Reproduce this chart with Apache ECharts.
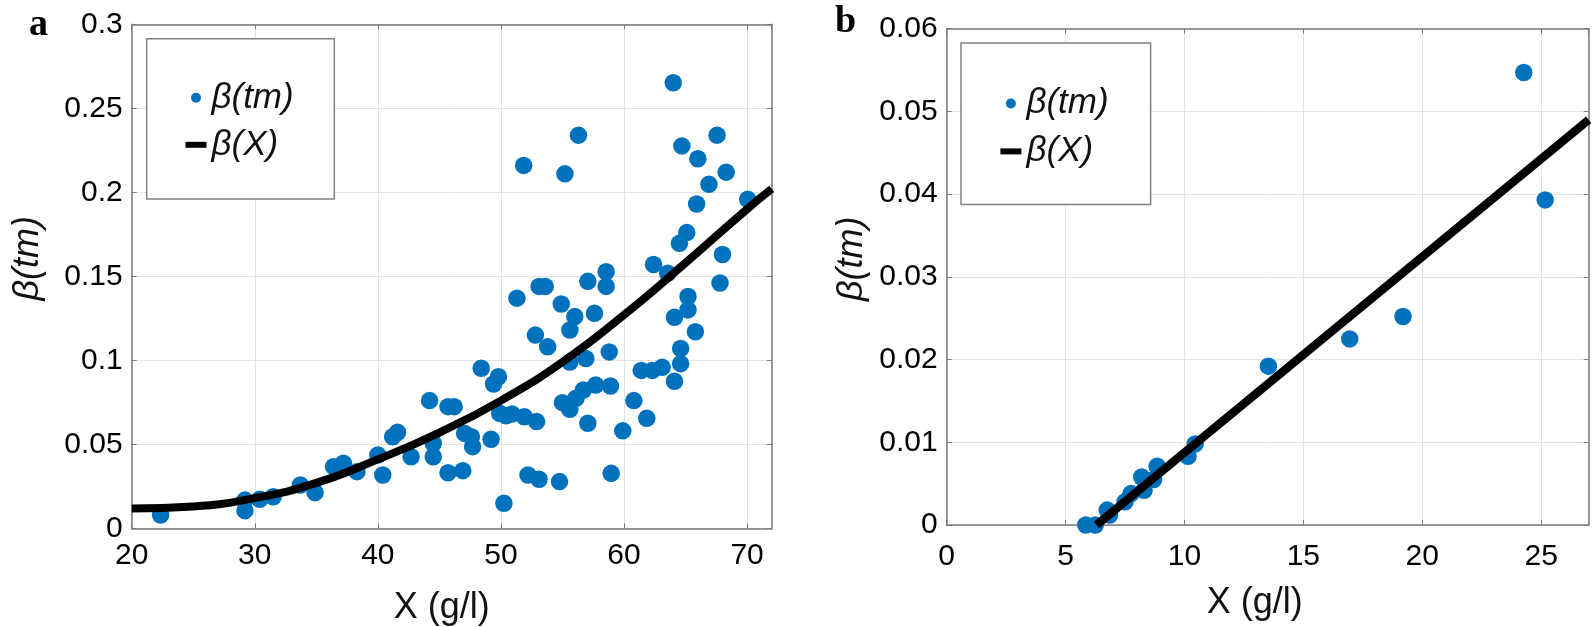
<!DOCTYPE html>
<html>
<head>
<meta charset="utf-8">
<script src="https://cdn.jsdelivr.net/npm/echarts@6/dist/echarts.min.js"></script>
<style>
  html, body { margin: 0; padding: 0; background: #fff; }
  #chart { width: 1595px; height: 627px; }
</style>
</head>
<body>
<div id="chart"></div>
<script>
// panel a : measured beta(tm) vs X (g/l), plus fitted curve
const aPoints = [
  [22.35, 0.0079], [29.2, 0.0168], [29.2, 0.0105], [30.4, 0.0173], [31.5, 0.0188],
  [33.7, 0.0258], [34.9, 0.0212], [36.4, 0.0367], [37.2, 0.0387], [38.3, 0.0337],
  [40.0, 0.0436], [40.4, 0.0317], [41.2, 0.0545], [41.6, 0.0572], [42.7, 0.0426],
  [44.2, 0.076], [44.5, 0.0506], [44.5, 0.0426], [45.7, 0.0331], [45.7, 0.0724],
  [46.2, 0.0724], [46.9, 0.0343], [47.05, 0.0565], [47.6, 0.0545], [47.7, 0.0486],
  [48.4, 0.0953], [49.2, 0.053], [49.4, 0.0859], [49.8, 0.0902], [49.9, 0.0685],
  [50.24, 0.0149], [50.4, 0.067], [50.9, 0.068], [51.3, 0.137], [51.85, 0.216],
  [51.9, 0.0664], [52.2, 0.0317], [52.8, 0.115], [52.9, 0.0635], [53.1, 0.144],
  [53.1, 0.0292], [53.6, 0.144], [53.8, 0.108], [54.76, 0.0278], [54.9, 0.1335],
  [55.0, 0.0748], [55.2, 0.211], [55.6, 0.118], [55.6, 0.099], [55.6, 0.0708],
  [56.0, 0.126], [56.1, 0.0774], [56.3, 0.234], [56.7, 0.0823], [56.9, 0.101],
  [57.06, 0.147], [57.06, 0.0625], [57.6, 0.128], [57.7, 0.0853], [58.55, 0.1527],
  [58.55, 0.144], [58.8, 0.105], [58.9, 0.0847], [58.96, 0.0327], [59.9, 0.058],
  [60.8, 0.076], [61.4, 0.094], [61.85, 0.0655], [62.3, 0.094], [62.4, 0.157],
  [63.1, 0.0958], [63.55, 0.1518], [64.0, 0.2652], [64.1, 0.1256], [64.1, 0.0875],
  [64.5, 0.1696], [64.6, 0.107], [64.6, 0.098], [64.7, 0.2276], [65.1, 0.176],
  [65.2, 0.138], [65.2, 0.130], [65.8, 0.117], [65.9, 0.193], [66.0, 0.220],
  [66.9, 0.2048], [67.56, 0.234], [67.8, 0.146], [68.0, 0.163], [68.3, 0.212],
  [70.05, 0.1958]
];
const aFitX = [20, 25, 30, 35, 40, 45, 50, 55, 60, 65, 70, 72];
const aFitY = [0.0118, 0.013, 0.018, 0.027, 0.041, 0.057, 0.076, 0.099, 0.127, 0.158, 0.190, 0.202];

// panel b
const bPoints = [
  [5.85, 0], [6.25, 0], [6.75, 0.0018], [6.85, 0.0012], [7.5, 0.0028], [7.75, 0.0038],
  [8.2, 0.0058], [8.3, 0.0042], [8.7, 0.0055], [8.85, 0.0071], [10.15, 0.0083],
  [10.45, 0.0098], [13.53, 0.0192], [16.95, 0.0225], [19.19, 0.0252],
  [24.27, 0.0547], [25.17, 0.0393]
];
const bFitX = [6.3, 27];
const bFitY = [0, 0.049];

// axis ranges: [min, max, interval]
const aXRange = [20, 72, 10];
const aYRange = [0, 0.3, 0.05];
const bXRange = [0, 27, 5];
const bYRange = [0, 0.06, 0.01];

const FONT = '"Liberation Sans", Arial, sans-serif';
const AXIS_COLOR = '#7a7a7a';
const GRID_COLOR = '#e2e2e2';
const BLUE = '#0072BD';

function zip(xs, ys) {
  return xs.map((x, i) => [x, ys[i]]);
}

function xAxes(grid, range, labelMargin, nameGap, shift) {
  const base = {
    gridIndex: grid, type: 'value',
    min: range[0], max: range[1], interval: range[2],
    axisLine: { show: true, onZero: false, lineStyle: { color: AXIS_COLOR, width: 1.5 } },
    axisTick: { show: true, inside: true, length: 5, lineStyle: { color: AXIS_COLOR, width: 1 } },
  };
  return [
    {
      ...base, position: 'bottom',
      name: 'X (g/l)', nameLocation: 'middle', nameGap: nameGap,
      nameTextStyle: { fontSize: 36, fontFamily: FONT, color: '#111', padding: [0, shift, 0, 0] },
      axisLabel: { fontSize: 30, fontFamily: FONT, color: '#000', margin: labelMargin, showMaxLabel: false },
      splitLine: { show: true, lineStyle: { color: GRID_COLOR, width: 1 } },
    },
    { ...base, position: 'top', axisLabel: { show: false }, splitLine: { show: false } },
  ];
}

function yAxes(grid, range, nameGap) {
  const base = {
    gridIndex: grid, type: 'value',
    min: range[0], max: range[1], interval: range[2],
    axisLine: { show: true, onZero: false, lineStyle: { color: AXIS_COLOR, width: 1.5 } },
    axisTick: { show: true, inside: true, length: 5, lineStyle: { color: AXIS_COLOR, width: 1 } },
  };
  return [
    {
      ...base, position: 'left',
      name: 'β(tm)', nameLocation: 'middle', nameGap: nameGap,
      nameTextStyle: { fontSize: 36, fontFamily: FONT, fontStyle: 'italic', color: '#111', padding: [0, 0, 0, 36] },
      axisLabel: { fontSize: 30, fontFamily: FONT, color: '#000', margin: 9 },
      splitLine: { show: true, lineStyle: { color: GRID_COLOR, width: 1 } },
    },
    { ...base, position: 'right', axisLabel: { show: false }, splitLine: { show: false } },
  ];
}

function legendFor(left, top, padding, gap) {
  return {
    orient: 'vertical', left: left, top: top,
    padding: padding, itemGap: gap,
    itemWidth: 21, itemHeight: 10,
    borderColor: '#808080', borderWidth: 1.5, backgroundColor: '#fff',
    selectedMode: false,
    textStyle: { fontSize: 35, fontStyle: 'italic', fontFamily: FONT, color: '#111', lineHeight: 33, width: 100 },
    data: [
      { name: 'β(tm)', icon: 'circle', itemStyle: { color: BLUE } },
      { name: 'β(X)', icon: 'path://M0,0h21v6h-21z', itemStyle: { color: '#000' } },
    ],
  };
}

const chart = echarts.init(document.getElementById('chart'));

chart.setOption({
  backgroundColor: '#fff',
  animation: false,
  grid: [
    { left: 131.7, top: 24.3, width: 640, height: 504, outerBoundsMode: 'none' },
    { left: 946.7, top: 28.7, width: 642, height: 496.3, outerBoundsMode: 'none' },
  ],
  xAxis: [...xAxes(0, aXRange, 12, 62, 20), ...xAxes(1, bXRange, 17, 60, 26)],
  yAxis: [...yAxes(0, aYRange, 86), ...yAxes(1, bYRange, 77)],
  legend: [
    legendFor(146.7, 38.7, [41.6, 22.8, 36.8, 38.8], 12),
    legendFor(961, 43, [43, 24.2, 35.7, 39.4], 12.9),
  ],
  graphic: [
    { type: 'text', left: 29, top: 6, style: { text: 'a', font: 'bold 38px "Liberation Serif", serif', fill: '#000' } },
    { type: 'text', left: 835, top: 3, style: { text: 'b', font: 'bold 38px "Liberation Serif", serif', fill: '#000' } },
  ],
  series: [
    {
      name: 'β(tm)', type: 'scatter', xAxisIndex: 0, yAxisIndex: 0,
      data: aPoints, symbolSize: 17.5, itemStyle: { color: BLUE, opacity: 1 },
    },
    {
      name: 'β(X)', type: 'line', xAxisIndex: 0, yAxisIndex: 0,
      data: zip(aFitX, aFitY), smooth: true, symbol: 'none',
      color: '#000', lineStyle: { color: '#000', width: 8 }, clip: true,
    },
    {
      name: 'β(tm)', type: 'scatter', xAxisIndex: 2, yAxisIndex: 2,
      data: bPoints, symbolSize: 17.5, itemStyle: { color: BLUE, opacity: 1 },
    },
    {
      name: 'β(X)', type: 'line', xAxisIndex: 2, yAxisIndex: 2,
      data: zip(bFitX, bFitY), symbol: 'none',
      color: '#000', lineStyle: { color: '#000', width: 8.5 }, clip: true,
    },
  ],
});
</script>
</body>
</html>
